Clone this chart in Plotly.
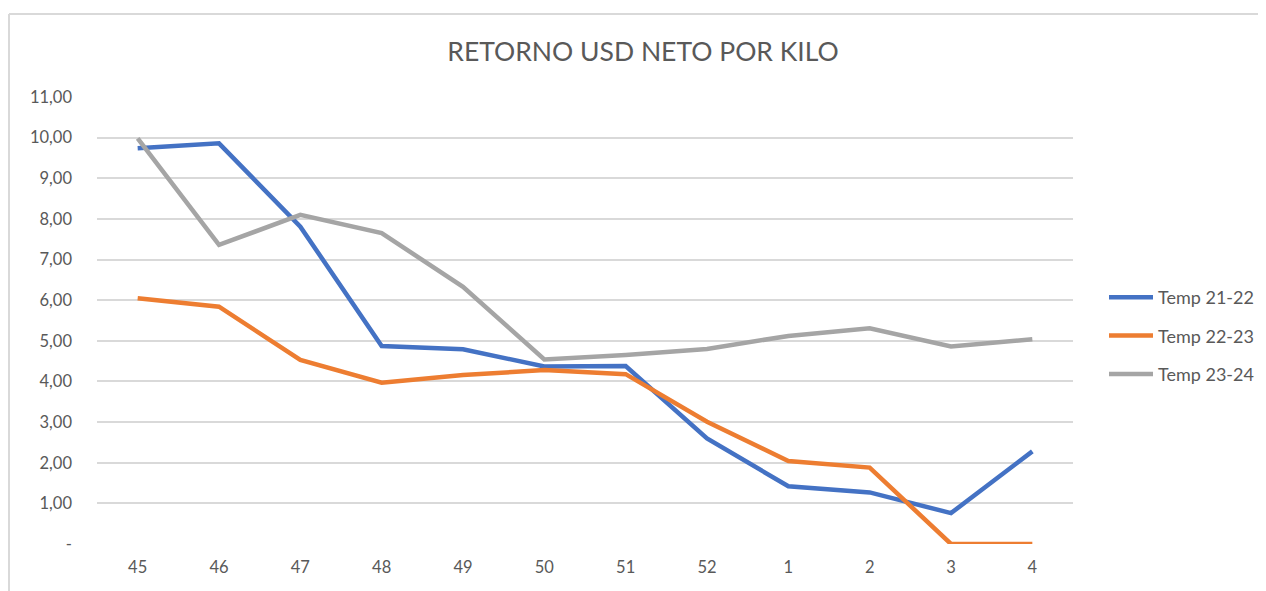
import plotly.graph_objects as go

weeks = ["45", "46", "47", "48", "49", "50", "51", "52", "1", "2", "3", "4"]
temp_21_22 = [9.74, 9.86, 7.81, 4.87, 4.79, 4.37, 4.38, 2.60, 1.42, 1.27, 0.76, 2.28]
temp_22_23 = [6.05, 5.84, 4.53, 3.97, 4.16, 4.28, 4.18, 3.01, 2.04, 1.88, 0.0, 0.0]
temp_23_24 = [9.98, 7.36, 8.10, 7.65, 6.33, 4.54, 4.65, 4.80, 5.12, 5.31, 4.86, 5.04]
series_names = ["Temp 21-22", "Temp 22-23", "Temp 23-24"]
series_colors = ["#4472C4", "#ED7D31", "#A5A5A5"]
y_ticks = list(range(0, 12))
y_labels = ["-"] + [f"{v},00" for v in range(1, 12)]

FONT = "Lato"
TXT = "#595959"

fig = go.Figure()
for name, vals, col in zip(series_names, [temp_21_22, temp_22_23, temp_23_24], series_colors):
    fig.add_trace(go.Scatter(
        x=weeks, y=vals, mode="lines", name=name, legendgroup=name,
        line=dict(color=col, width=4.5),
    ))

# page body has an 8px margin, so figure coords = reference coords - 8
OFF = 8
W, H = 1266 - OFF, 591 - OFF
ml, mr, mt, mb = 97 - OFF, 193, 97 - OFF, 47
pw, ph = W - ml - mr, H - mt - mb

fig.update_layout(
    width=W, height=H,
    margin=dict(l=ml, r=mr, t=mt, b=mb, autoexpand=False),
    paper_bgcolor="white", plot_bgcolor="white",
    font=dict(family=FONT, color=TXT, size=16),
    title=dict(text="RETORNO USD NETO POR KILO", x=(643 - OFF) / W, xref="container", xanchor="center",
               y=1 - (52 - OFF) / H, yref="container", yanchor="middle",
               font=dict(size=26.5, color=TXT, family=FONT)),
    showlegend=True,
    legend=dict(x=(1104 - OFF - ml) / pw, xanchor="left", y=(H - mb - (336 - OFF)) / ph, yanchor="middle",
                font=dict(size=18, color=TXT), tracegroupgap=12, itemwidth=44,
                bgcolor="rgba(0,0,0,0)"),
    xaxis=dict(type="category", range=[-0.5, 11.5], showgrid=False, zeroline=False, showline=False,
               ticks="", ticklabelstandoff=11, tickfont=dict(size=16.5, color=TXT)),
    yaxis=dict(range=[0, 11], tickvals=y_ticks, ticktext=y_labels, showgrid=True,
               gridcolor="#D9D9D9", gridwidth=1.5, zeroline=False, showline=False, ticks="",
               ticklabelstandoff=24, tickfont=dict(size=16.5, color=TXT)),
    shapes=[
        dict(type="line", xref="paper", yref="paper",
             x0=(1 - ml) / pw, x1=(W + 5 - ml) / pw, y0=(H - mb - 6) / ph, y1=(H - mb - 6) / ph,
             line=dict(color="#D9D9D9", width=2), layer="below"),
        dict(type="line", xref="paper", yref="paper",
             x0=(1 - ml) / pw, x1=(1 - ml) / pw, y0=(H - mb - 6) / ph, y1=(-10 - mb) / ph,
             line=dict(color="#D9D9D9", width=2), layer="below"),
    ],
)

fig.write_html("out.html")
